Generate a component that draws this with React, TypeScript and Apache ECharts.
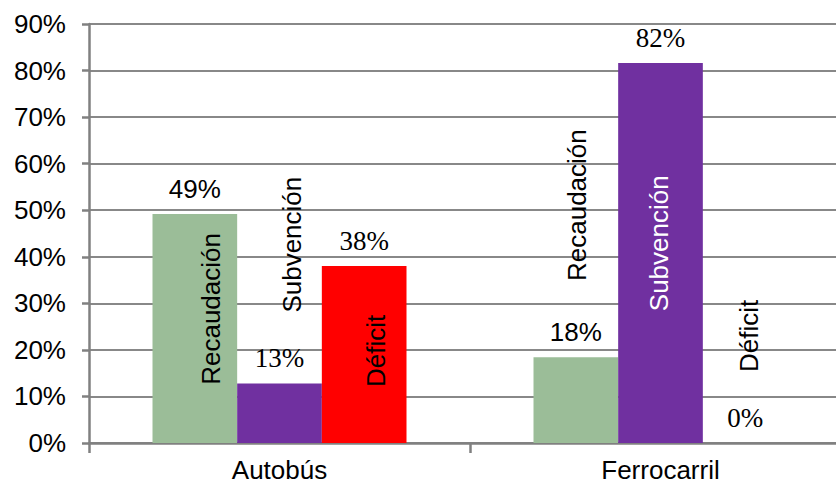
import React, { useEffect, useRef } from 'react';
import * as echarts from 'echarts';

const categories = ['Autobús', 'Ferrocarril'];
const seriesNames = ['Recaudación', 'Subvención', 'Déficit'];
const recaudacion = [49.2, 18.4];
const subvencion = [12.8, 81.6];
const deficit = [38.0, 0];
const yMin = 0;
const yMax = 90;
const yStep = 10;

// centres of the rotated series-name labels, in axis units (%), per category / series
const nameLabelY = [
  [28.8, 42.6, 19.8],
  [51.1, 42.9, 23.0],
];
// horizontal shift of those labels, as a fraction of the bar width
const nameLabelShift = [
  [0.19, 0.15, 0.14],
  [0.01, -0.02, 0.05],
];

const SANS = '"Liberation Sans", Arial, sans-serif';
const SERIF = '"Liberation Serif", "Times New Roman", serif';
const GAP = 1 / 3;
const COLORS = ['#9BBD98', '#7030A0', '#FF0000'];

export default function App() {
  const ref = useRef<HTMLDivElement>(null);
  useEffect(() => {
    if (!ref.current) return;
    const chart = echarts.init(ref.current, undefined, { renderer: 'svg' });
    const valueLabel = (font: string, size: number) => ({
      show: true,
      position: 'top',
      distance: 12,
      fontSize: size,
      fontFamily: font,
      color: '#000',
      formatter: (p: any) => Math.round(p.value) + '%',
    });
    const barSeries = [recaudacion, subvencion, deficit].map((d, i) => ({
      type: 'bar',
      name: seriesNames[i],
      data: d,
      barGap: '0%',
      barCategoryGap: GAP * 100 + '%',
      itemStyle: { color: COLORS[i] },
      label: valueLabel(i === 0 ? SANS : SERIF, i === 0 ? 26 : 27),
      z: 2,
    }));
    const nameData: number[][] = [];
    categories.forEach((_, c) => {
      for (let s = 0; s < 3; s++) nameData.push([c, s, nameLabelY[c][s], nameLabelShift[c][s]]);
    });
    chart.setOption({
      animation: false,
      backgroundColor: '#fff',
      grid: {
        left: 89,
        top: 24,
        width: 762,
        height: 419,
        containLabel: false,
        outerBoundsMode: 'none',
      },
      xAxis: {
        type: 'category',
        data: categories,
        axisLine: { show: true, lineStyle: { color: '#808080', width: 2.5 } },
        axisTick: { show: true, length: 10, lineStyle: { color: '#808080', width: 2.5 } },
        axisLabel: { fontSize: 26, lineHeight: 20, fontFamily: SANS, color: '#000', margin: 17 },
        splitLine: { show: false },
      },
      yAxis: {
        type: 'value',
        min: yMin,
        max: yMax,
        interval: yStep,
        axisLine: { show: true, lineStyle: { color: '#808080', width: 2.5 } },
        axisTick: { show: true, length: 7, lineStyle: { color: '#808080', width: 2.5 } },
        axisLabel: { fontSize: 26, fontFamily: SANS, color: '#000', margin: 23, formatter: '{value}%' },
        splitLine: { show: true, lineStyle: { color: '#888888', width: 2 } },
      },
      series: [
        ...barSeries,
        {
          type: 'custom',
          data: nameData,
          encode: { x: 0, y: 2 },
          clip: false,
          z: 5,
          silent: true,
          renderItem: (params: any, api: any) => {
            const cat = api.value(0);
            const slot = api.value(1);
            const yv = api.value(2);
            const shift = api.value(3);
            const pt = api.coord([cat, yv]);
            const catW = api.size([1, 0])[0];
            const bw = (catW * (1 - GAP)) / 3;
            const x = pt[0] + (slot - 1) * bw + shift * bw;
            const inside = cat === 1 && slot === 1;
            return {
              type: 'text',
              x,
              y: pt[1],
              rotation: Math.PI / 2,
              style: {
                text: seriesNames[slot],
                fill: inside ? '#fff' : '#000',
                fontSize: 26,
                fontFamily: SANS,
                align: 'center',
                verticalAlign: 'middle',
              },
            };
          },
        },
      ],
    });
    return () => chart.dispose();
  }, []);
  return (
    <div
      ref={ref}
      style={{ position: 'fixed', left: 0, top: 0, width: 836, height: 486, background: '#fff' }}
    />
  );
}
